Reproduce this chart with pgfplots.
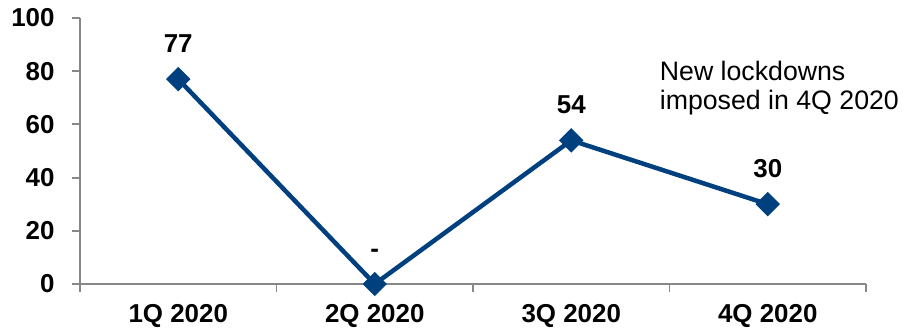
\documentclass[border=0pt]{standalone}
\usepackage{pgfplots}
\pgfplotsset{compat=1.18}
\usepackage{fontspec}
\setmainfont{Liberation Sans}
\definecolor{lineblue}{HTML}{00407F}
\definecolor{axgray}{HTML}{878787}
\begin{document}
\begin{tikzpicture}[x=1bp,y=1bp]
\path[use as bounding box] (0,0) rectangle (905,331);
\begin{axis}[
  at={(80bp,47bp)}, anchor=south west,
  width=786bp, height=266bp, scale only axis,
  xmin=-0.5, xmax=3.5, ymin=0, ymax=100,
  axis x line*=bottom, axis y line*=left,
  axis line style={axgray, line width=2.5bp},
  xtick={0,1,2,3}, xticklabels={1Q 2020,2Q 2020,3Q 2020,4Q 2020},
  major x tick style={draw=none},
  minor xtick={-0.5,0.5,1.5,2.5,3.5},
  minor x tick style={axgray, line width=1.8bp},
  minor tick length=8bp,
  ytick={0,20,...,100},
  major y tick style={axgray, line width=1.8bp},
  major tick length=8bp,
  tick align=outside,
  tick label style={font=\fontsize{26}{30}\selectfont\bfseries},
  /pgf/number format/assume math mode=true,
  yticklabel style={xshift=-14bp},
  xticklabel style={yshift=-9bp},
  clip=false,
  nodes near coords, point meta=explicit symbolic,
  every node near coord/.style={font=\fontsize{26}{30}\selectfont\bfseries, yshift=21bp, black},
]
\addplot[lineblue, line width=4.5bp, mark=square*, mark size=6.4bp, mark options={solid, rotate=45}]
  coordinates {(0,77)[77] (1,0)[-] (2,54)[54] (3,30)[30]};
\node[anchor=north west, align=left, font=\fontsize{26.8}{30}\selectfont, inner sep=0pt] at (axis cs:2.45,84) {New lockdowns\\imposed in 4Q 2020};
\end{axis}
\end{tikzpicture}
\end{document}
